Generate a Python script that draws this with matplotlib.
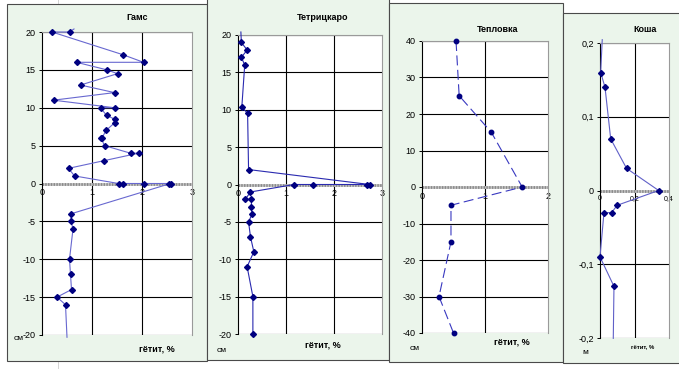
import matplotlib
matplotlib.use('Agg')
import matplotlib.pyplot as plt
from matplotlib.patches import Rectangle
from matplotlib.lines import Line2D

plt.rcParams['font.family'] = ['Liberation Sans', 'DejaVu Sans']

# ---------------- data ----------------
gams_x = [0.64, 0.55, 0.20, 1.62, 2.03, 0.69, 1.30, 1.51, 0.77, 1.45, 0.23, 1.45, 1.17,
          1.29, 1.45, 1.45, 1.28, 1.20, 1.18, 1.25, 1.77, 1.93, 1.23, 0.53, 0.65,
          1.53, 1.62, 2.03, 2.53, 2.57, 0.58, 0.58, 0.62, 0.55, 0.57, 0.59, 0.30, 0.47, 0.50]
gams_y = [20.4, 20, 20, 17, 16, 16, 15, 14.5, 13, 12, 11, 10, 10,
          9, 8.5, 8, 7, 6, 6, 5, 4, 4, 3, 2, 1,
          0, 0, 0, 0, 0, -4, -5, -6, -10, -12, -14, -15, -16, -20.3]

tetr_x = [0.06, 0.07, 0.19, 0.07, 0.14, 0.08, 0.20, 0.22, 2.74, 2.69, 1.56, 1.17,
          0.26, 0.15, 0.28, 0.28, 0.29, 0.22, 0.26, 0.33, 0.19, 0.31, 0.31]
tetr_y = [20.4, 19, 18, 17, 16, 10.4, 9.5, 2, 0, 0, 0, 0,
          -1, -2, -2, -3, -4, -5, -7, -9, -11, -15, -20]

tepl_x = [0.54, 0.59, 1.10, 1.59, 0.46, 0.46, 0.27, 0.50]
tepl_y = [40, 25, 15, 0, -5, -15, -30, -40]

kosha_x = [0.013, 0.004, 0.029, 0.062, 0.154, 0.340, 0.100, 0.067, 0.023, 0.000, 0.081, 0.077]
kosha_y = [0.2045, 0.16, 0.14, 0.07, 0.03, 0.0, -0.02, -0.03, -0.03, -0.09, -0.13, -0.2005]

titles = ['Гамс', 'Тетрицкаро', 'Тепловка', 'Коша']
xlabel = 'гётит, %'
units = ['см', 'см', 'см', 'м']

gams_xticks = [0, 1, 2, 3]
gams_yticks = [-20, -15, -10, -5, 0, 5, 10, 15, 20]
tepl_xticks = [0, 1, 2]
tepl_yticks = [-40, -30, -20, -10, 0, 10, 20, 30, 40]
kosha_xticks = [0, 0.2, 0.4]
kosha_xlabels = ['0', '0,2', '0,4']
kosha_yticks = [-0.2, -0.1, 0, 0.1, 0.2]
kosha_ylabels = ['-0,2', '-0,1', '0', '0,1', '0,2']

# ---------------- figure ----------------
W, H = 679, 369
fig = plt.figure(figsize=(W / 100, H / 100), dpi=100)
fig.patch.set_facecolor('white')
BG = '#EBF5EB'
NAVY = '#000080'

# faint spreadsheet line behind
fig.add_artist(Line2D([58 / W, 58 / W], [0, 1], transform=fig.transFigure,
                      color='#d4d4d4', lw=0.7, zorder=-5))


def frame(x0, y0, x1, y1):
    r = Rectangle((x0 / W, 1 - y1 / H), (x1 - x0) / W, (y1 - y0) / H,
                  transform=fig.transFigure, facecolor=BG, edgecolor='#4a4a4a',
                  lw=0.8, zorder=-1)
    fig.add_artist(r)


def make_ax(l, t, r, b):
    return fig.add_axes([l / W, 1 - b / H, (r - l) / W, (b - t) / H])


def setup(ax, xticks, xlabels, yticks, ylabels, xfs=6.5):
    ax.set_xlim(xticks[0], xticks[-1])
    ax.set_ylim(yticks[0], yticks[-1])
    ax.set_facecolor('white')
    for s in ['top', 'right']:
        ax.spines[s].set_color('#9a9a9a')
        ax.spines[s].set_linewidth(0.8)
    ax.spines['left'].set_color('black')
    ax.spines['left'].set_linewidth(0.8)
    ax.spines['bottom'].set_position(('data', 0))
    ax.spines['bottom'].set_color('none')
    ax.set_xticks(xticks)
    ax.set_xticklabels(xlabels, fontsize=xfs)
    ax.tick_params(axis='x', length=0, pad=3.5)
    ax.set_yticks(yticks)
    ax.set_yticklabels(ylabels, fontsize=6.5)
    ax.tick_params(axis='y', length=2.5, width=0.7, direction='out', pad=2)
    for xv in xticks[1:-1]:
        ax.axvline(xv, color='black', lw=0.8, zorder=1)
    for yv in yticks:
        if yv != 0:
            ax.axhline(yv, color='black', lw=0.8, zorder=1)
    ax.axhline(0, color='#c4c4c4', lw=2.0, zorder=1.4)
    ax.axhline(0, color='#8a8a8a', lw=2.0, ls=(0, (0.5, 0.5)), zorder=1.5)


def draw(ax, x, y, color, marker, ms, ls='-', lo=None, hi=None):
    idx = [i for i, v in enumerate(y) if lo <= v <= hi]
    ax.plot(x, y, color=color, lw=0.8, ls=ls, marker=marker, ms=ms,
            mfc=NAVY, mec=NAVY, markevery=idx, clip_on=False, zorder=3)


# frames
frame(7, 4, 207, 361)
frame(207, -3, 389, 360)
frame(389, 3, 563, 362)
frame(563, 13, 682, 363)

# Panel 1: Гамс
ax1 = make_ax(42, 32, 192, 335)
setup(ax1, gams_xticks, [str(v) for v in gams_xticks], gams_yticks,
      [str(v) for v in gams_yticks])
draw(ax1, gams_x, gams_y, '#6868d0', 'D', 3.0, lo=-20, hi=20)

# Panel 2: Тетрицкаро
ax2 = make_ax(238, 35, 382, 334)
setup(ax2, gams_xticks, [str(v) for v in gams_xticks], gams_yticks,
      [str(v) for v in gams_yticks])
draw(ax2, tetr_x, tetr_y, '#2a2ab0', 'D', 3.0, lo=-20, hi=20)

# Panel 3: Тепловка
ax3 = make_ax(422, 41, 548, 333)
setup(ax3, tepl_xticks, [str(v) for v in tepl_xticks], tepl_yticks,
      [str(v) for v in tepl_yticks])
draw(ax3, tepl_x, tepl_y, '#3838c0', 'o', 3.2, ls=(0, (9, 4)), lo=-40, hi=40)

# Panel 4: Коша
ax4 = make_ax(600, 43, 669, 338)
setup(ax4, kosha_xticks, kosha_xlabels, kosha_yticks, kosha_ylabels, xfs=5)
draw(ax4, kosha_x, kosha_y, '#6060c8', 'D', 3.0, lo=-0.2, hi=0.2)

# texts
tpos = [(137, 18), (323, 17), (498, 30), (645, 30)]
for (px, py), t in zip(tpos, titles):
    fig.text(px / W, 1 - py / H, t, ha='center', va='center', fontsize=6.5,
             fontweight='bold')

xlpos = [(157, 349, 6.5), (323, 345, 6.5), (512, 342, 6.5), (643, 347, 4.3)]
for px, py, fs in xlpos:
    fig.text(px / W, 1 - py / H, xlabel, ha='center', va='center', fontsize=fs,
             fontweight='bold')

upos = [(19, 339), (222, 350), (415, 348), (585, 352)]
for (px, py), u in zip(upos, units):
    fig.text(px / W, 1 - py / H, u, ha='center', va='center', fontsize=6)

fig.savefig('out.png', dpi=100, facecolor='white')
